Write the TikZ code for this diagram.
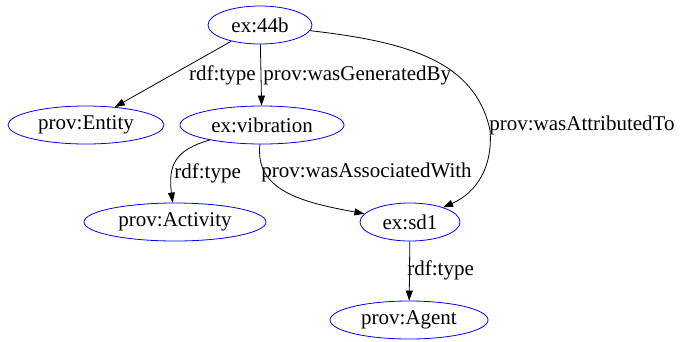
\documentclass[tikz,border=0pt]{standalone}
\usepackage{fontspec}
\setmainfont{Liberation Serif}
\usetikzlibrary{shapes.geometric,arrows.meta}
\begin{document}
\begin{tikzpicture}[x=1pt,y=-1pt,line width=0.8pt,
  res/.style={shape=ellipse,draw=blue,inner sep=0pt,minimum height=38pt},
  lbl/.style={inner sep=0pt,anchor=west},
  >={Triangle[length=10pt,width=7pt]},
  font=\fontsize{21}{25}\selectfont]
\useasboundingbox (0,0) rectangle (682,341);
\node (ex44b) at (260,25) [res,minimum width=104pt] {ex:44b};
\node (entity) at (86,125) [res,minimum width=156pt] {prov:Entity};
\node (vibration) at (262,125) [res,minimum width=164pt] {ex:vibration};
\node (activity) at (175,222) [res,minimum width=182pt] {prov:Activity};
\node (sd1) at (410,222) [res,minimum width=100pt] {ex:sd1};
\node (agent) at (409,320) [res,minimum width=158pt] {prov:Agent};
\draw[->] (ex44b) -- (entity.32);
\draw[->] (ex44b) -- (vibration);
\draw[->] (vibration) .. controls (175,150) and (168,165) .. (activity);
\draw[->] (vibration) .. controls (255,190) and (300,202) .. (sd1);
\draw[->] (ex44b) .. controls (410,42) and (475,62) .. (490,130) .. controls (493,165) and (478,192) .. (sd1);
\draw[->] (sd1) -- (agent);
\node (l1) at (256,75) [lbl,anchor=east] {rdf:type};
\node (l2) at (263,75) [lbl] {prov:wasGeneratedBy};
\node (l3) at (174,173) [lbl] {rdf:type};
\node (l4) at (261,172) [lbl] {prov:wasAssociatedWith};
\node (l5) at (489,125) [lbl] {prov:wasAttributedTo};
\node (l6) at (407,270) [lbl] {rdf:type};
\end{tikzpicture}
\end{document}
